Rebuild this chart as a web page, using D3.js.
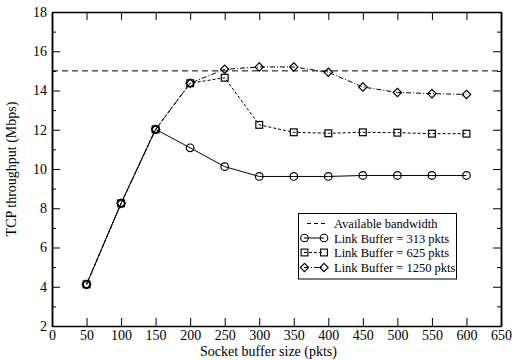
<!DOCTYPE html>
<html><head><meta charset="utf-8">
<script src="https://cdn.jsdelivr.net/npm/d3@7"></script>
<style>body{margin:0;background:#fff}svg{display:block}text{font-family:"Liberation Serif","Times New Roman",serif;fill:#000}</style>
</head><body><svg id="c" width="519" height="360"></svg>
<script>
const sizes = [50,100,150,200,250,300,350,400,450,500,550,600];
const buf313 = [4.12,8.25,12.02,11.08,10.12,9.62,9.62,9.62,9.67,9.67,9.67,9.67];
const buf625 = [4.12,8.25,12.02,14.37,14.65,12.25,11.87,11.82,11.87,11.85,11.8,11.8];
const buf1250 = [4.12,8.25,12.02,14.37,15.08,15.2,15.2,14.93,14.18,13.9,13.84,13.8];
const bandwidth = 15;
const xTicks = [0,50,100,150,200,250,300,350,400,450,500,550,600,650];
const yTicks = [2,4,6,8,10,12,14,16,18];
const yMinor = [3,5,7,9,11,13,15,17];
const legendLabels = ["Available bandwidth","Link Buffer = 313 pkts","Link Buffer = 625 pkts","Link Buffer = 1250 pkts"];

const svg = d3.select("#c");
const L=52,R=501,T=12,B=326;
const x = d3.scaleLinear().domain([0,650]).range([L,R]);
const y = d3.scaleLinear().domain([2,18]).range([B,T]);

const gB = svg.append("g").attr("transform",`translate(0,${B})`)
  .call(d3.axisBottom(x).tickValues(xTicks).tickSizeInner(-8).tickSizeOuter(0).tickPadding(4));
svg.append("g").attr("transform",`translate(0,${T})`)
  .call(d3.axisTop(x).tickValues(xTicks).tickSizeInner(-8).tickSizeOuter(0).tickFormat(""));
const gL = svg.append("g").attr("transform",`translate(${L},0)`)
  .call(d3.axisLeft(y).tickValues(yTicks).tickSizeInner(-8).tickSizeOuter(0).tickPadding(4));
svg.append("g").attr("transform",`translate(${R},0)`)
  .call(d3.axisRight(y).tickValues(yTicks).tickSizeInner(-8).tickSizeOuter(0).tickFormat(""));
svg.append("g").attr("transform",`translate(${L},0)`)
  .call(d3.axisLeft(y).tickValues(yMinor).tickSizeInner(-4).tickSizeOuter(0).tickFormat(""));
svg.append("g").attr("transform",`translate(${R},0)`)
  .call(d3.axisRight(y).tickValues(yMinor).tickSizeInner(-4).tickSizeOuter(0).tickFormat(""));
svg.selectAll("g").attr("font-family",null);
svg.selectAll(".domain").attr("stroke","#000").attr("stroke-width",1.5);
svg.selectAll(".tick line").attr("stroke","#000").attr("stroke-width",1);
svg.selectAll(".tick text").style("font-family","'Liberation Serif', serif").attr("font-size",14);
gL.selectAll(".tick text").attr("dx","-1");

svg.append("text").attr("x",(L+R)/2 - 8).attr("y",356).attr("text-anchor","middle").attr("font-size",14).text("Socket buffer size (pkts)");
svg.append("text").attr("transform",`translate(16,${(T+B)/2}) rotate(-90)`).attr("text-anchor","middle").attr("font-size",14).text("TCP throughput (Mbps)");

svg.append("line").attr("x1",x(0)).attr("x2",x(650)).attr("y1",y(bandwidth)).attr("y2",y(bandwidth))
  .attr("stroke","#000").attr("stroke-width",1).attr("stroke-dasharray","6,4");

const line = d3.line().x(d=>x(d[0])).y(d=>y(d[1]));
const series = [
  {vals:buf1250, dash:"5,2,1,2", sym:"diamond"},
  {vals:buf625, dash:"3,2", sym:"square"},
  {vals:buf313, dash:null, sym:"circle"}
];
function marker(g,sym,cx,cy){
  if(sym==="circle") g.append("circle").attr("cx",cx).attr("cy",cy).attr("r",3.8);
  else if(sym==="square") g.append("rect").attr("x",cx-3.4).attr("y",cy-3.4).attr("width",6.8).attr("height",6.8);
  else g.append("path").attr("d",`M${cx},${cy-4.2}L${cx+4.2},${cy}L${cx},${cy+4.2}L${cx-4.2},${cy}Z`);
}
series.forEach(s=>{
  const pts = sizes.map((v,i)=>[v,s.vals[i]]);
  svg.append("path").attr("d",line(pts)).attr("fill","none").attr("stroke","#000").attr("stroke-width",1)
    .attr("stroke-dasharray",s.dash);
  const g = svg.append("g").attr("fill","none").attr("stroke","#000").attr("stroke-width",1.2);
  pts.forEach(p=>marker(g,s.sym,x(p[0]),y(p[1])));
});

const lg = svg.append("g");
lg.append("rect").attr("x",298.5).attr("y",213.5).attr("width",158).attr("height",65.5).attr("fill","#fff").attr("stroke","#000").attr("stroke-width",1);
const rowsY = [223.5,238,252.5,267.5];
const legDash = ["4,3",null,"3,2","5,2,1,2"];
const legSym = [null,"circle","square","diamond"];
legendLabels.forEach((lab,i)=>{
  const yy = rowsY[i];
  lg.append("line").attr("x1",i===0?307:304).attr("x2",i===0?327:324).attr("y1",yy).attr("y2",yy).attr("stroke","#000").attr("stroke-width",1).attr("stroke-dasharray",legDash[i]);
  if(legSym[i]){
    const g = lg.append("g").attr("fill","none").attr("stroke","#000").attr("stroke-width",1.1);
    marker(g,legSym[i],304.5,yy); marker(g,legSym[i],324,yy);
  }
  lg.append("text").attr("x",334).attr("y",yy+4.5).attr("font-size",12.5).text(lab);
});
</script></body></html>
